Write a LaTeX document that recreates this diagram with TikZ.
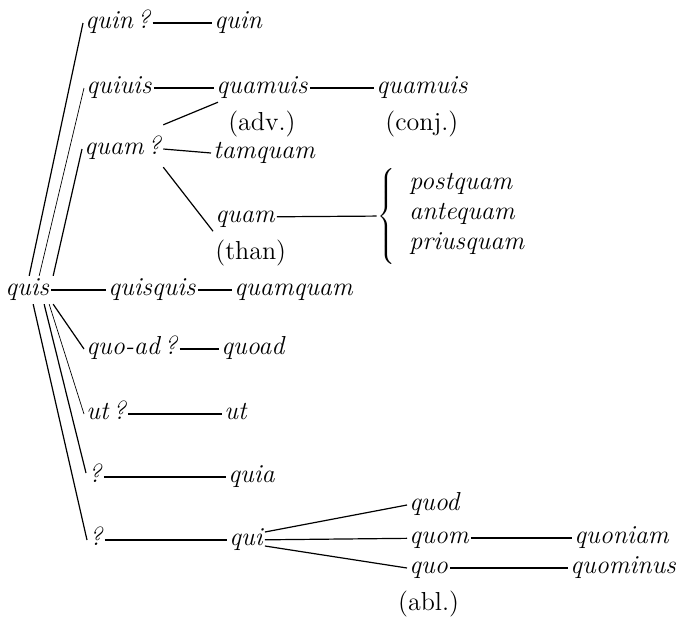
\documentclass[tikz,border=0pt]{standalone}
\usetikzlibrary{positioning}

\begin{document}
\begin{tikzpicture}[
x=0.5pt, y=-0.5pt,
word/.style={font=\fontsize{13}{15}\selectfont\itshape, inner sep=1pt, text height=8.6pt, text depth=3.2pt, anchor=west},
gloss/.style={font=\fontsize{13}{15}\selectfont, inner sep=1pt},
link/.style={line width=0.6pt},
faint/.style={line width=0.35pt}
]
\useasboundingbox (0,0) rectangle (680,616);

\node[word] (quis) at (3,290) {quis};

\node[word] (quinq) at (83,23) {quin\,?};
\node[word] (quin) at (212,23) {quin};

\node[word] (quiuis) at (84,88) {quiuis};
\node[word] (quamuis) at (214,88) {quamuis};
\node[word] (quamuisc) at (374,88) {quamuis};
\node[gloss, below=3pt of quamuis] (adv) {(adv.)};
\node[gloss, below=3pt of quamuisc] (conj) {(conj.)};

\node[word] (quamq) at (82,149) {quam\,?};
\node[word] (tamquam) at (211,153) {tamquam};
\node[word] (quam) at (213,217) {quam};
\node[gloss, below right=3pt and 0pt of quam.south west] (than) {(than)};
\node[inner sep=0pt] (brace) at (386,216) {$\left\{\vrule height 21pt depth 21pt width 0pt\right.\kern-\nulldelimiterspace$};
\node[word] (postquam) at (407,184) {postquam};
\node[word] (antequam) at (407,214) {antequam};
\node[word] (priusquam) at (407,244) {priusquam};

\node[word] (quisquis) at (106,290) {quisquis};
\node[word] (quamquam) at (232,290) {quamquam};

\node[word] (quoadq) at (84,349) {quo-ad\,?};
\node[word] (quoad) at (219,349) {quoad};

\node[word] (utq) at (84,414) {ut\,?};
\node[word] (ut) at (222,414) {ut};

\node[word] (qmarka) at (86,477) {?};
\node[word] (quia) at (226,477) {quia};

\node[word] (qmarkb) at (87,540) {?};
\node[word] (qui) at (227,540) {qui};
\node[word] (quod) at (407,505) {quod};
\node[word] (quom) at (407,538) {quom};
\node[word] (quo) at (407,568) {quo};
\node[gloss, below=3pt of quo] (abl) {(abl.)};
\node[word] (quoniam) at (572,538) {quoniam};
\node[word] (quominus) at (568,568) {quominus};

\draw[link] ([xshift=1pt]quis.north) -- (quinq.west);
\draw[faint] ([xshift=6pt]quis.north) -- (quiuis.west);
\draw[link] ([xshift=13pt]quis.north) -- (quamq.west);
\draw[link] (quis) -- (quisquis);
\draw[link] (quisquis) -- (quamquam);
\draw[link] ([xshift=13pt]quis.south) -- (quoadq.west);
\draw[faint] ([xshift=11pt]quis.south) -- (utq.west);
\draw[link] ([xshift=8.5pt]quis.south) -- ([yshift=2pt]qmarka.west);
\draw[link] ([xshift=3pt]quis.south) -- (qmarkb.west);

\draw[link] (quinq) -- (quin);
\draw[link] (quiuis) -- (quamuis);
\draw[link] (quamuis) -- (quamuisc);
\draw[link] ([yshift=5pt]quamq.north east) -- ([xshift=2pt]quamuis.south west);
\draw[link] (quamq.east) -- (tamquam.west);
\draw[link] ([yshift=-2pt]quamq.south east) -- (quam.south west);
\draw[link] (quam) -- (brace);

\draw[link] (quoadq) -- (quoad);
\draw[link] (utq) -- (ut);
\draw[link] (qmarka) -- (quia);
\draw[link] (qmarkb) -- (qui);

\draw[link] ([yshift=4pt]qui.east) -- (quod.west);
\draw[link] (qui) -- (quom);
\draw[link] ([yshift=-3pt]qui.east) -- (quo.west);
\draw[link] (quom) -- (quoniam);
\draw[link] (quo) -- (quominus);
\end{tikzpicture}
\end{document}
